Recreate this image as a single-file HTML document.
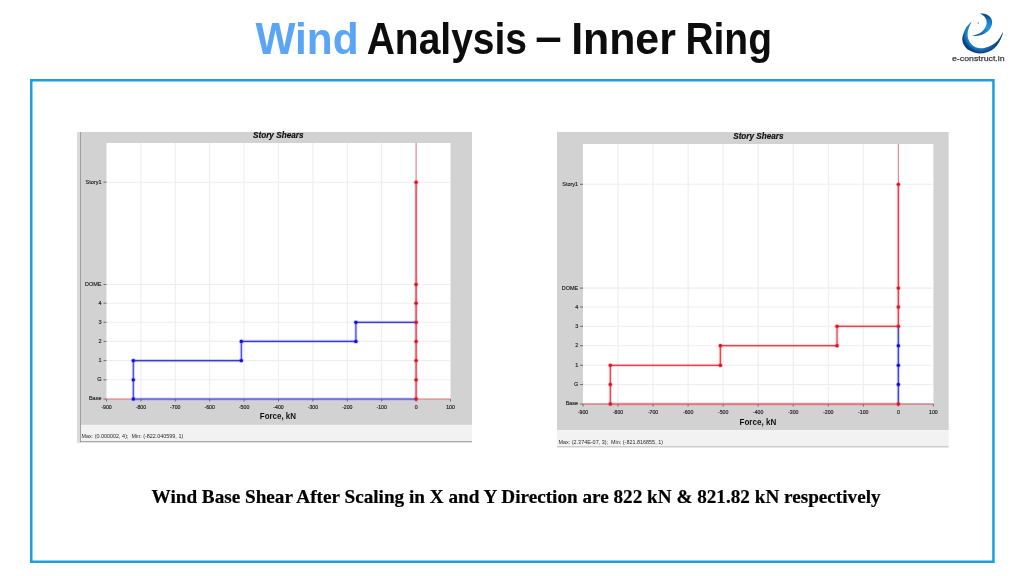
<!DOCTYPE html>
<html lang="en">
<head>
<meta charset="utf-8">
<title>Wind Analysis – Inner Ring</title>
<style>
html,body{margin:0;padding:0;background:#fff;}
body{width:1024px;height:576px;overflow:hidden;position:relative;font-family:"Liberation Sans",sans-serif;}
svg{position:absolute;left:0;top:0;display:block;}
text{font-family:"Liberation Sans",sans-serif;}
.t{font-weight:bold;font-size:44px;}
.cap{font-family:"Liberation Serif",serif;font-weight:bold;font-size:18.3px;fill:#000;stroke:#000;stroke-width:0.2px;}
.ax{font-size:5.5px;fill:#1c1c1c;stroke:#1c1c1c;stroke-width:0.15px;}
.xt{font-size:5.2px;stroke:#1c1c1c;stroke-width:0.15px;}
.ttl{font-size:8.3px;font-weight:bold;font-style:italic;fill:#111;stroke:#111;stroke-width:0.2px;}
.frc{font-size:9px;font-weight:bold;fill:#111;}
.st{font-size:6px;fill:#2a2a2a;}
.lgt{font-size:8px;fill:#3a3a3a;stroke:#3a3a3a;stroke-width:0.25px;}
</style>
</head>
<body>
<svg width="1024" height="576" viewBox="0 0 1024 576">
<defs>
<filter id="bs" x="0" y="0" width="1024" height="576" filterUnits="userSpaceOnUse"><feGaussianBlur stdDeviation="0.35"/></filter>
<filter id="bl" x="0" y="0" width="1024" height="576" filterUnits="userSpaceOnUse"><feGaussianBlur stdDeviation="0.6"/></filter>
<radialGradient id="lg1" gradientUnits="userSpaceOnUse" cx="983.4" cy="32.1" r="21.5">
<stop offset="0.72" stop-color="#2b9be0"/><stop offset="0.86" stop-color="#1474c0"/><stop offset="1" stop-color="#093c7c"/>
</radialGradient>
<linearGradient id="lg1b" gradientUnits="userSpaceOnUse" x1="975" y1="50" x2="1003" y2="34">
<stop offset="0" stop-color="#08306c" stop-opacity="0"/><stop offset="0.45" stop-color="#08306c" stop-opacity="0.55"/><stop offset="1" stop-color="#08306c" stop-opacity="0.95"/>
</linearGradient>
<linearGradient id="lg2" gradientUnits="userSpaceOnUse" x1="984" y1="13" x2="978" y2="37">
<stop offset="0" stop-color="#083a76"/><stop offset="0.25" stop-color="#1578c4"/><stop offset="0.55" stop-color="#2698dc"/><stop offset="1" stop-color="#0b4c90"/>
</linearGradient>
</defs>
<rect x="0" y="0" width="1024" height="576" fill="#fff"/>
<rect x="31.25" y="80.25" width="962.2" height="481.5" fill="none" stroke="#1a9fda" stroke-width="2.5" filter="url(#bs)"/>
<text class="t" y="54" filter="url(#bs)"><tspan x="255.45" textLength="103.25" lengthAdjust="spacingAndGlyphs" fill="#5aa5f6">Wind</tspan> <tspan x="366.73" textLength="160.24" lengthAdjust="spacingAndGlyphs" fill="#0a0a0a">Analysis</tspan> <tspan x="535.35" y="51.9" textLength="26.45" lengthAdjust="spacingAndGlyphs" fill="#0a0a0a">–</tspan> <tspan x="571.14" y="54" textLength="104.74" lengthAdjust="spacingAndGlyphs" fill="#0a0a0a">Inner</tspan> <tspan x="685.41" textLength="86.54" lengthAdjust="spacingAndGlyphs" fill="#0a0a0a">Ring</tspan></text>


<g filter="url(#bs)"><path d="M971.78 21.56 C970.91 22.48 967.98 24.98 966.56 27.11 C965.13 29.24 963.93 32.20 963.22 34.33 C962.52 36.46 962.17 38.04 962.33 39.89 C962.50 41.74 963.17 43.74 964.22 45.44 C965.28 47.15 966.85 48.89 968.67 50.11 C970.48 51.33 972.93 52.24 975.11 52.78 C977.30 53.31 979.56 53.52 981.78 53.33 C984.00 53.15 986.37 52.52 988.44 51.67 C990.52 50.81 992.52 49.72 994.22 48.22 C995.93 46.72 997.41 44.67 998.67 42.67 C999.93 40.67 1001.06 38.02 1001.78 36.22 C1002.50 34.43 1002.80 32.61 1003.00 31.89 C1002.46 32.91 1001.06 36.15 999.78 38.00 C998.50 39.85 997.19 41.56 995.33 43.00 C993.48 44.44 990.93 45.80 988.67 46.67 C986.41 47.54 983.94 48.11 981.78 48.22 C979.61 48.33 977.43 48.02 975.67 47.33 C973.91 46.65 972.43 45.44 971.22 44.11 C970.02 42.78 969.04 41.06 968.44 39.33 C967.85 37.61 967.56 35.81 967.67 33.78 C967.78 31.74 968.43 29.15 969.11 27.11 C969.80 25.07 971.33 22.48 971.78 21.56 Z" fill="url(#lg1)"/>
<path d="M971.78 21.56 C970.91 22.48 967.98 24.98 966.56 27.11 C965.13 29.24 963.93 32.20 963.22 34.33 C962.52 36.46 962.17 38.04 962.33 39.89 C962.50 41.74 963.17 43.74 964.22 45.44 C965.28 47.15 966.85 48.89 968.67 50.11 C970.48 51.33 972.93 52.24 975.11 52.78 C977.30 53.31 979.56 53.52 981.78 53.33 C984.00 53.15 986.37 52.52 988.44 51.67 C990.52 50.81 992.52 49.72 994.22 48.22 C995.93 46.72 997.41 44.67 998.67 42.67 C999.93 40.67 1001.06 38.02 1001.78 36.22 C1002.50 34.43 1002.80 32.61 1003.00 31.89 C1002.46 32.91 1001.06 36.15 999.78 38.00 C998.50 39.85 997.19 41.56 995.33 43.00 C993.48 44.44 990.93 45.80 988.67 46.67 C986.41 47.54 983.94 48.11 981.78 48.22 C979.61 48.33 977.43 48.02 975.67 47.33 C973.91 46.65 972.43 45.44 971.22 44.11 C970.02 42.78 969.04 41.06 968.44 39.33 C967.85 37.61 967.56 35.81 967.67 33.78 C967.78 31.74 968.43 29.15 969.11 27.11 C969.80 25.07 971.33 22.48 971.78 21.56 Z" fill="url(#lg1b)"/>
<path d="M980.11 13.56 C980.98 13.63 983.76 13.50 985.33 14.00 C986.91 14.50 988.46 15.48 989.56 16.56 C990.65 17.63 991.52 19.02 991.89 20.44 C992.26 21.87 992.17 23.59 991.78 25.11 C991.39 26.63 990.67 28.20 989.56 29.56 C988.44 30.91 986.81 32.22 985.11 33.22 C983.41 34.22 981.56 35.07 979.33 35.56 C977.11 36.04 973.04 36.02 971.78 36.11 C972.70 35.81 975.67 35.07 977.33 34.33 C979.00 33.59 980.52 32.72 981.78 31.67 C983.04 30.61 984.09 29.31 984.89 28.00 C985.69 26.69 986.37 25.22 986.56 23.78 C986.74 22.33 986.46 20.63 986.00 19.33 C985.54 18.04 984.76 16.96 983.78 16.00 C982.80 15.04 980.72 13.96 980.11 13.56 Z" fill="url(#lg2)"/></g>
<circle cx="978.2" cy="22.9" r="0.75" fill="#4a7fb0"/>
<text x="952" y="61.2" textLength="52.6" lengthAdjust="spacingAndGlyphs" class="lgt">e-construct.in</text>

<g filter="url(#bl)">
<rect x="77" y="132" width="395" height="292.9" fill="#d2d2d2"/>
<rect x="77" y="424.9" width="395" height="16.700000000000045" fill="#f2f2f2"/>
<rect x="77" y="441.1" width="395" height="1.2" fill="#a0a0a0"/>
<rect x="77" y="132" width="3" height="310.3" fill="#dadada"/>
<rect x="80" y="132" width="0.9" height="310.3" fill="#989898"/>
<rect x="106.5" y="143" width="344.0" height="256" fill="#fff"/>
<line x1="140.90" y1="143" x2="140.90" y2="399" stroke="#eeeeee" stroke-width="1.1"/>
<line x1="175.30" y1="143" x2="175.30" y2="399" stroke="#eeeeee" stroke-width="1.1"/>
<line x1="209.70" y1="143" x2="209.70" y2="399" stroke="#eeeeee" stroke-width="1.1"/>
<line x1="244.10" y1="143" x2="244.10" y2="399" stroke="#eeeeee" stroke-width="1.1"/>
<line x1="278.50" y1="143" x2="278.50" y2="399" stroke="#eeeeee" stroke-width="1.1"/>
<line x1="312.90" y1="143" x2="312.90" y2="399" stroke="#eeeeee" stroke-width="1.1"/>
<line x1="347.30" y1="143" x2="347.30" y2="399" stroke="#eeeeee" stroke-width="1.1"/>
<line x1="381.70" y1="143" x2="381.70" y2="399" stroke="#eeeeee" stroke-width="1.1"/>
<line x1="416.10" y1="143" x2="416.10" y2="399" stroke="#eeeeee" stroke-width="1.1"/>
<line x1="106.5" y1="379.8" x2="450.5" y2="379.8" stroke="#eeeeee" stroke-width="1.1"/>
<line x1="106.5" y1="360.6" x2="450.5" y2="360.6" stroke="#eeeeee" stroke-width="1.1"/>
<line x1="106.5" y1="341.4" x2="450.5" y2="341.4" stroke="#eeeeee" stroke-width="1.1"/>
<line x1="106.5" y1="322.3" x2="450.5" y2="322.3" stroke="#eeeeee" stroke-width="1.1"/>
<line x1="106.5" y1="303.2" x2="450.5" y2="303.2" stroke="#eeeeee" stroke-width="1.1"/>
<line x1="106.5" y1="284.5" x2="450.5" y2="284.5" stroke="#eeeeee" stroke-width="1.1"/>
<line x1="106.5" y1="182.2" x2="450.5" y2="182.2" stroke="#eeeeee" stroke-width="1.1"/>
<line x1="103.5" y1="399" x2="106.5" y2="399" stroke="#555" stroke-width="0.8"/>
<text x="101.5" y="399.90" text-anchor="end" class="ax">Base</text>
<line x1="103.5" y1="379.8" x2="106.5" y2="379.8" stroke="#555" stroke-width="0.8"/>
<text x="101.5" y="381.30" text-anchor="end" class="ax">G</text>
<line x1="103.5" y1="360.6" x2="106.5" y2="360.6" stroke="#555" stroke-width="0.8"/>
<text x="101.5" y="362.10" text-anchor="end" class="ax">1</text>
<line x1="103.5" y1="341.4" x2="106.5" y2="341.4" stroke="#555" stroke-width="0.8"/>
<text x="101.5" y="342.90" text-anchor="end" class="ax">2</text>
<line x1="103.5" y1="322.3" x2="106.5" y2="322.3" stroke="#555" stroke-width="0.8"/>
<text x="101.5" y="323.80" text-anchor="end" class="ax">3</text>
<line x1="103.5" y1="303.2" x2="106.5" y2="303.2" stroke="#555" stroke-width="0.8"/>
<text x="101.5" y="304.70" text-anchor="end" class="ax">4</text>
<line x1="103.5" y1="284.5" x2="106.5" y2="284.5" stroke="#555" stroke-width="0.8"/>
<text x="101.5" y="286.00" text-anchor="end" class="ax">DOME</text>
<line x1="103.5" y1="182.2" x2="106.5" y2="182.2" stroke="#555" stroke-width="0.8"/>
<text x="101.5" y="183.70" text-anchor="end" class="ax">Story1</text>
<line x1="106.50" y1="399" x2="106.50" y2="401.5" stroke="#555" stroke-width="0.8"/>
<text x="106.50" y="408.5" text-anchor="middle" class="ax xt">-900</text>
<line x1="140.90" y1="399" x2="140.90" y2="401.5" stroke="#555" stroke-width="0.8"/>
<text x="140.90" y="408.5" text-anchor="middle" class="ax xt">-800</text>
<line x1="175.30" y1="399" x2="175.30" y2="401.5" stroke="#555" stroke-width="0.8"/>
<text x="175.30" y="408.5" text-anchor="middle" class="ax xt">-700</text>
<line x1="209.70" y1="399" x2="209.70" y2="401.5" stroke="#555" stroke-width="0.8"/>
<text x="209.70" y="408.5" text-anchor="middle" class="ax xt">-600</text>
<line x1="244.10" y1="399" x2="244.10" y2="401.5" stroke="#555" stroke-width="0.8"/>
<text x="244.10" y="408.5" text-anchor="middle" class="ax xt">-500</text>
<line x1="278.50" y1="399" x2="278.50" y2="401.5" stroke="#555" stroke-width="0.8"/>
<text x="278.50" y="408.5" text-anchor="middle" class="ax xt">-400</text>
<line x1="312.90" y1="399" x2="312.90" y2="401.5" stroke="#555" stroke-width="0.8"/>
<text x="312.90" y="408.5" text-anchor="middle" class="ax xt">-300</text>
<line x1="347.30" y1="399" x2="347.30" y2="401.5" stroke="#555" stroke-width="0.8"/>
<text x="347.30" y="408.5" text-anchor="middle" class="ax xt">-200</text>
<line x1="381.70" y1="399" x2="381.70" y2="401.5" stroke="#555" stroke-width="0.8"/>
<text x="381.70" y="408.5" text-anchor="middle" class="ax xt">-100</text>
<line x1="416.10" y1="399" x2="416.10" y2="401.5" stroke="#555" stroke-width="0.8"/>
<text x="416.10" y="408.5" text-anchor="middle" class="ax xt">0</text>
<line x1="450.50" y1="399" x2="450.50" y2="401.5" stroke="#555" stroke-width="0.8"/>
<text x="450.50" y="408.5" text-anchor="middle" class="ax xt">100</text>
<line x1="106.50" y1="399" x2="133.33" y2="399" stroke="#e07272" stroke-width="1.0" stroke-linecap="butt"/>
<line x1="133.33" y1="399" x2="416.10" y2="399" stroke="#4848ff" stroke-opacity="0.26" stroke-width="3.1" stroke-linecap="butt"/>
<line x1="133.33" y1="399" x2="416.10" y2="399" stroke="#3a3cc6" stroke-width="1.2" stroke-linecap="butt"/>
<line x1="416.10" y1="399" x2="450.50" y2="399" stroke="#e07272" stroke-width="1.0" stroke-linecap="butt"/>
<line x1="416.10" y1="143" x2="416.10" y2="182.2" stroke="#d04454" stroke-width="0.7" stroke-linecap="butt"/>
<line x1="416.10" y1="182.2" x2="416.10" y2="399" stroke="#ff4444" stroke-opacity="0.26" stroke-width="3.2" stroke-linecap="butt"/>
<line x1="416.10" y1="182.2" x2="416.10" y2="399" stroke="#d04454" stroke-width="1.3" stroke-linecap="butt"/>
<line x1="133.33" y1="399" x2="133.33" y2="360.6" stroke="#4848ff" stroke-opacity="0.26" stroke-width="3.1" stroke-linecap="square"/>
<line x1="133.33" y1="399" x2="133.33" y2="360.6" stroke="#4c4ed0" stroke-width="1.2" stroke-linecap="square"/>
<line x1="133.33" y1="360.6" x2="241.35" y2="360.6" stroke="#4848ff" stroke-opacity="0.26" stroke-width="3.1" stroke-linecap="square"/>
<line x1="133.33" y1="360.6" x2="241.35" y2="360.6" stroke="#3a3cc6" stroke-width="1.2" stroke-linecap="square"/>
<line x1="241.35" y1="360.6" x2="241.35" y2="341.4" stroke="#4848ff" stroke-opacity="0.26" stroke-width="3.1" stroke-linecap="square"/>
<line x1="241.35" y1="360.6" x2="241.35" y2="341.4" stroke="#4c4ed0" stroke-width="1.2" stroke-linecap="square"/>
<line x1="241.35" y1="341.4" x2="355.90" y2="341.4" stroke="#4848ff" stroke-opacity="0.26" stroke-width="3.1" stroke-linecap="square"/>
<line x1="241.35" y1="341.4" x2="355.90" y2="341.4" stroke="#3a3cc6" stroke-width="1.2" stroke-linecap="square"/>
<line x1="355.90" y1="341.4" x2="355.90" y2="322.3" stroke="#4848ff" stroke-opacity="0.26" stroke-width="3.1" stroke-linecap="square"/>
<line x1="355.90" y1="341.4" x2="355.90" y2="322.3" stroke="#4c4ed0" stroke-width="1.2" stroke-linecap="square"/>
<line x1="355.90" y1="322.3" x2="416.10" y2="322.3" stroke="#4848ff" stroke-opacity="0.26" stroke-width="3.1" stroke-linecap="square"/>
<line x1="355.90" y1="322.3" x2="416.10" y2="322.3" stroke="#3a3cc6" stroke-width="1.2" stroke-linecap="square"/>
<circle cx="133.33" cy="399" r="2.5" fill="#4848ff" fill-opacity="0.25"/>
<circle cx="133.33" cy="399" r="1.65" fill="#1010d8"/>
<circle cx="133.33" cy="379.8" r="2.5" fill="#4848ff" fill-opacity="0.25"/>
<circle cx="133.33" cy="379.8" r="1.65" fill="#1010d8"/>
<circle cx="133.33" cy="360.6" r="2.5" fill="#4848ff" fill-opacity="0.25"/>
<circle cx="133.33" cy="360.6" r="1.65" fill="#1010d8"/>
<circle cx="241.35" cy="360.6" r="2.5" fill="#4848ff" fill-opacity="0.25"/>
<circle cx="241.35" cy="360.6" r="1.65" fill="#1010d8"/>
<circle cx="241.35" cy="341.4" r="2.5" fill="#4848ff" fill-opacity="0.25"/>
<circle cx="241.35" cy="341.4" r="1.65" fill="#1010d8"/>
<circle cx="355.90" cy="341.4" r="2.5" fill="#4848ff" fill-opacity="0.25"/>
<circle cx="355.90" cy="341.4" r="1.65" fill="#1010d8"/>
<circle cx="355.90" cy="322.3" r="2.5" fill="#4848ff" fill-opacity="0.25"/>
<circle cx="355.90" cy="322.3" r="1.65" fill="#1010d8"/>
<circle cx="416.10" cy="399" r="2.5" fill="#ff4444" fill-opacity="0.25"/>
<circle cx="416.10" cy="399" r="1.65" fill="#e0102a"/>
<circle cx="416.10" cy="379.8" r="2.5" fill="#ff4444" fill-opacity="0.25"/>
<circle cx="416.10" cy="379.8" r="1.65" fill="#e0102a"/>
<circle cx="416.10" cy="360.6" r="2.5" fill="#ff4444" fill-opacity="0.25"/>
<circle cx="416.10" cy="360.6" r="1.65" fill="#e0102a"/>
<circle cx="416.10" cy="341.4" r="2.5" fill="#ff4444" fill-opacity="0.25"/>
<circle cx="416.10" cy="341.4" r="1.65" fill="#e0102a"/>
<circle cx="416.10" cy="322.3" r="2.5" fill="#ff4444" fill-opacity="0.25"/>
<circle cx="416.10" cy="322.3" r="1.65" fill="#e0102a"/>
<circle cx="416.10" cy="303.2" r="2.5" fill="#ff4444" fill-opacity="0.25"/>
<circle cx="416.10" cy="303.2" r="1.65" fill="#e0102a"/>
<circle cx="416.10" cy="284.5" r="2.5" fill="#ff4444" fill-opacity="0.25"/>
<circle cx="416.10" cy="284.5" r="1.65" fill="#e0102a"/>
<circle cx="416.10" cy="182.2" r="2.5" fill="#ff4444" fill-opacity="0.25"/>
<circle cx="416.10" cy="182.2" r="1.65" fill="#e0102a"/>
<text x="253" y="137.6" textLength="50.5" lengthAdjust="spacingAndGlyphs" class="ttl">Story Shears</text>
<text x="259.8" y="419.4" textLength="36.19999999999999" lengthAdjust="spacingAndGlyphs" class="frc">Force, kN</text>
<text x="81.5" y="438" textLength="101.69999999999999" lengthAdjust="spacingAndGlyphs" class="st">Max: (0.000002, 4);&#160; Min: (-822.040599, 1)</text>
</g>
<g filter="url(#bl)">
<rect x="557" y="132" width="391.70000000000005" height="298.1" fill="#d2d2d2"/>
<rect x="557" y="430.1" width="391.70000000000005" height="16.599999999999966" fill="#f2f2f2"/>
<rect x="557" y="446.2" width="391.70000000000005" height="1.2" fill="#c4c4c4"/>
<rect x="583" y="144" width="350.4" height="260" fill="#fff"/>
<line x1="618.04" y1="144" x2="618.04" y2="404" stroke="#eeeeee" stroke-width="1.1"/>
<line x1="653.08" y1="144" x2="653.08" y2="404" stroke="#eeeeee" stroke-width="1.1"/>
<line x1="688.12" y1="144" x2="688.12" y2="404" stroke="#eeeeee" stroke-width="1.1"/>
<line x1="723.16" y1="144" x2="723.16" y2="404" stroke="#eeeeee" stroke-width="1.1"/>
<line x1="758.20" y1="144" x2="758.20" y2="404" stroke="#eeeeee" stroke-width="1.1"/>
<line x1="793.24" y1="144" x2="793.24" y2="404" stroke="#eeeeee" stroke-width="1.1"/>
<line x1="828.28" y1="144" x2="828.28" y2="404" stroke="#eeeeee" stroke-width="1.1"/>
<line x1="863.32" y1="144" x2="863.32" y2="404" stroke="#eeeeee" stroke-width="1.1"/>
<line x1="898.36" y1="144" x2="898.36" y2="404" stroke="#eeeeee" stroke-width="1.1"/>
<line x1="583" y1="384.5" x2="933.4" y2="384.5" stroke="#eeeeee" stroke-width="1.1"/>
<line x1="583" y1="365.3" x2="933.4" y2="365.3" stroke="#eeeeee" stroke-width="1.1"/>
<line x1="583" y1="345.7" x2="933.4" y2="345.7" stroke="#eeeeee" stroke-width="1.1"/>
<line x1="583" y1="326.3" x2="933.4" y2="326.3" stroke="#eeeeee" stroke-width="1.1"/>
<line x1="583" y1="307" x2="933.4" y2="307" stroke="#eeeeee" stroke-width="1.1"/>
<line x1="583" y1="288.1" x2="933.4" y2="288.1" stroke="#eeeeee" stroke-width="1.1"/>
<line x1="583" y1="184.3" x2="933.4" y2="184.3" stroke="#eeeeee" stroke-width="1.1"/>
<line x1="580" y1="404" x2="583" y2="404" stroke="#555" stroke-width="0.8"/>
<text x="578.2" y="404.90" text-anchor="end" class="ax">Base</text>
<line x1="580" y1="384.5" x2="583" y2="384.5" stroke="#555" stroke-width="0.8"/>
<text x="578.2" y="386.00" text-anchor="end" class="ax">G</text>
<line x1="580" y1="365.3" x2="583" y2="365.3" stroke="#555" stroke-width="0.8"/>
<text x="578.2" y="366.80" text-anchor="end" class="ax">1</text>
<line x1="580" y1="345.7" x2="583" y2="345.7" stroke="#555" stroke-width="0.8"/>
<text x="578.2" y="347.20" text-anchor="end" class="ax">2</text>
<line x1="580" y1="326.3" x2="583" y2="326.3" stroke="#555" stroke-width="0.8"/>
<text x="578.2" y="327.80" text-anchor="end" class="ax">3</text>
<line x1="580" y1="307" x2="583" y2="307" stroke="#555" stroke-width="0.8"/>
<text x="578.2" y="308.50" text-anchor="end" class="ax">4</text>
<line x1="580" y1="288.1" x2="583" y2="288.1" stroke="#555" stroke-width="0.8"/>
<text x="578.2" y="289.60" text-anchor="end" class="ax">DOME</text>
<line x1="580" y1="184.3" x2="583" y2="184.3" stroke="#555" stroke-width="0.8"/>
<text x="578.2" y="185.80" text-anchor="end" class="ax">Story1</text>
<line x1="583.00" y1="404" x2="583.00" y2="406.5" stroke="#555" stroke-width="0.8"/>
<text x="583.00" y="413.9" text-anchor="middle" class="ax xt">-900</text>
<line x1="618.04" y1="404" x2="618.04" y2="406.5" stroke="#555" stroke-width="0.8"/>
<text x="618.04" y="413.9" text-anchor="middle" class="ax xt">-800</text>
<line x1="653.08" y1="404" x2="653.08" y2="406.5" stroke="#555" stroke-width="0.8"/>
<text x="653.08" y="413.9" text-anchor="middle" class="ax xt">-700</text>
<line x1="688.12" y1="404" x2="688.12" y2="406.5" stroke="#555" stroke-width="0.8"/>
<text x="688.12" y="413.9" text-anchor="middle" class="ax xt">-600</text>
<line x1="723.16" y1="404" x2="723.16" y2="406.5" stroke="#555" stroke-width="0.8"/>
<text x="723.16" y="413.9" text-anchor="middle" class="ax xt">-500</text>
<line x1="758.20" y1="404" x2="758.20" y2="406.5" stroke="#555" stroke-width="0.8"/>
<text x="758.20" y="413.9" text-anchor="middle" class="ax xt">-400</text>
<line x1="793.24" y1="404" x2="793.24" y2="406.5" stroke="#555" stroke-width="0.8"/>
<text x="793.24" y="413.9" text-anchor="middle" class="ax xt">-300</text>
<line x1="828.28" y1="404" x2="828.28" y2="406.5" stroke="#555" stroke-width="0.8"/>
<text x="828.28" y="413.9" text-anchor="middle" class="ax xt">-200</text>
<line x1="863.32" y1="404" x2="863.32" y2="406.5" stroke="#555" stroke-width="0.8"/>
<text x="863.32" y="413.9" text-anchor="middle" class="ax xt">-100</text>
<line x1="898.36" y1="404" x2="898.36" y2="406.5" stroke="#555" stroke-width="0.8"/>
<text x="898.36" y="413.9" text-anchor="middle" class="ax xt">0</text>
<line x1="933.40" y1="404" x2="933.40" y2="406.5" stroke="#555" stroke-width="0.8"/>
<text x="933.40" y="413.9" text-anchor="middle" class="ax xt">100</text>
<line x1="583.00" y1="404" x2="610.33" y2="404" stroke="#d8464e" stroke-width="1.0" stroke-linecap="butt"/>
<line x1="610.33" y1="404" x2="898.36" y2="404" stroke="#ff4444" stroke-opacity="0.26" stroke-width="3.1" stroke-linecap="butt"/>
<line x1="610.33" y1="404" x2="898.36" y2="404" stroke="#d8464e" stroke-width="1.2" stroke-linecap="butt"/>
<line x1="898.36" y1="404" x2="933.40" y2="404" stroke="#d8464e" stroke-width="1.0" stroke-linecap="butt"/>
<line x1="898.36" y1="144" x2="898.36" y2="184.3" stroke="#e2444c" stroke-width="0.7" stroke-linecap="butt"/>
<line x1="898.36" y1="184.3" x2="898.36" y2="326.3" stroke="#ff4444" stroke-opacity="0.26" stroke-width="3.2" stroke-linecap="butt"/>
<line x1="898.36" y1="184.3" x2="898.36" y2="326.3" stroke="#e2444c" stroke-width="1.3" stroke-linecap="butt"/>
<line x1="898.36" y1="326.3" x2="898.36" y2="404" stroke="#4848ff" stroke-opacity="0.26" stroke-width="3.2" stroke-linecap="butt"/>
<line x1="898.36" y1="326.3" x2="898.36" y2="404" stroke="#4444dc" stroke-width="1.3" stroke-linecap="butt"/>
<line x1="610.33" y1="404" x2="610.33" y2="365.3" stroke="#ff4444" stroke-opacity="0.26" stroke-width="3.1" stroke-linecap="square"/>
<line x1="610.33" y1="404" x2="610.33" y2="365.3" stroke="#e2444c" stroke-width="1.2" stroke-linecap="square"/>
<line x1="610.33" y1="365.3" x2="720.36" y2="365.3" stroke="#ff4444" stroke-opacity="0.26" stroke-width="3.1" stroke-linecap="square"/>
<line x1="610.33" y1="365.3" x2="720.36" y2="365.3" stroke="#d8464e" stroke-width="1.2" stroke-linecap="square"/>
<line x1="720.36" y1="365.3" x2="720.36" y2="345.7" stroke="#ff4444" stroke-opacity="0.26" stroke-width="3.1" stroke-linecap="square"/>
<line x1="720.36" y1="365.3" x2="720.36" y2="345.7" stroke="#e2444c" stroke-width="1.2" stroke-linecap="square"/>
<line x1="720.36" y1="345.7" x2="837.04" y2="345.7" stroke="#ff4444" stroke-opacity="0.26" stroke-width="3.1" stroke-linecap="square"/>
<line x1="720.36" y1="345.7" x2="837.04" y2="345.7" stroke="#d8464e" stroke-width="1.2" stroke-linecap="square"/>
<line x1="837.04" y1="345.7" x2="837.04" y2="326.3" stroke="#ff4444" stroke-opacity="0.26" stroke-width="3.1" stroke-linecap="square"/>
<line x1="837.04" y1="345.7" x2="837.04" y2="326.3" stroke="#e2444c" stroke-width="1.2" stroke-linecap="square"/>
<line x1="837.04" y1="326.3" x2="898.36" y2="326.3" stroke="#ff4444" stroke-opacity="0.26" stroke-width="3.1" stroke-linecap="square"/>
<line x1="837.04" y1="326.3" x2="898.36" y2="326.3" stroke="#d8464e" stroke-width="1.2" stroke-linecap="square"/>
<circle cx="610.33" cy="404" r="2.5" fill="#ff4444" fill-opacity="0.25"/>
<circle cx="610.33" cy="404" r="1.65" fill="#e0102a"/>
<circle cx="610.33" cy="384.5" r="2.5" fill="#ff4444" fill-opacity="0.25"/>
<circle cx="610.33" cy="384.5" r="1.65" fill="#e0102a"/>
<circle cx="610.33" cy="365.3" r="2.5" fill="#ff4444" fill-opacity="0.25"/>
<circle cx="610.33" cy="365.3" r="1.65" fill="#e0102a"/>
<circle cx="720.36" cy="365.3" r="2.5" fill="#ff4444" fill-opacity="0.25"/>
<circle cx="720.36" cy="365.3" r="1.65" fill="#e0102a"/>
<circle cx="720.36" cy="345.7" r="2.5" fill="#ff4444" fill-opacity="0.25"/>
<circle cx="720.36" cy="345.7" r="1.65" fill="#e0102a"/>
<circle cx="837.04" cy="345.7" r="2.5" fill="#ff4444" fill-opacity="0.25"/>
<circle cx="837.04" cy="345.7" r="1.65" fill="#e0102a"/>
<circle cx="837.04" cy="326.3" r="2.5" fill="#ff4444" fill-opacity="0.25"/>
<circle cx="837.04" cy="326.3" r="1.65" fill="#e0102a"/>
<circle cx="898.36" cy="384.5" r="2.5" fill="#4848ff" fill-opacity="0.25"/>
<circle cx="898.36" cy="384.5" r="1.65" fill="#1010d8"/>
<circle cx="898.36" cy="365.3" r="2.5" fill="#4848ff" fill-opacity="0.25"/>
<circle cx="898.36" cy="365.3" r="1.65" fill="#1010d8"/>
<circle cx="898.36" cy="345.7" r="2.5" fill="#4848ff" fill-opacity="0.25"/>
<circle cx="898.36" cy="345.7" r="1.65" fill="#1010d8"/>
<circle cx="898.36" cy="404" r="2.5" fill="#ff4444" fill-opacity="0.25"/>
<circle cx="898.36" cy="404" r="1.65" fill="#e0102a"/>
<circle cx="898.36" cy="326.3" r="2.5" fill="#ff4444" fill-opacity="0.25"/>
<circle cx="898.36" cy="326.3" r="1.65" fill="#e0102a"/>
<circle cx="898.36" cy="307" r="2.5" fill="#ff4444" fill-opacity="0.25"/>
<circle cx="898.36" cy="307" r="1.65" fill="#e0102a"/>
<circle cx="898.36" cy="288.1" r="2.5" fill="#ff4444" fill-opacity="0.25"/>
<circle cx="898.36" cy="288.1" r="1.65" fill="#e0102a"/>
<circle cx="898.36" cy="184.3" r="2.5" fill="#ff4444" fill-opacity="0.25"/>
<circle cx="898.36" cy="184.3" r="1.65" fill="#e0102a"/>
<text x="733.2" y="138.9" textLength="50.39999999999998" lengthAdjust="spacingAndGlyphs" class="ttl">Story Shears</text>
<text x="739.5" y="425.3" textLength="36.700000000000045" lengthAdjust="spacingAndGlyphs" class="frc">Force, kN</text>
<text x="558.5" y="444" textLength="104.5" lengthAdjust="spacingAndGlyphs" class="st">Max: (2.374E-07, 3);&#160; Min: (-821.816855, 1)</text>
</g>
<text x="151.58" y="502.6" textLength="729.04" lengthAdjust="spacingAndGlyphs" class="cap" filter="url(#bs)">Wind Base Shear After Scaling in X and Y Direction are 822 kN &amp; 821.82 kN respectively</text>
</svg>
</body>
</html>
